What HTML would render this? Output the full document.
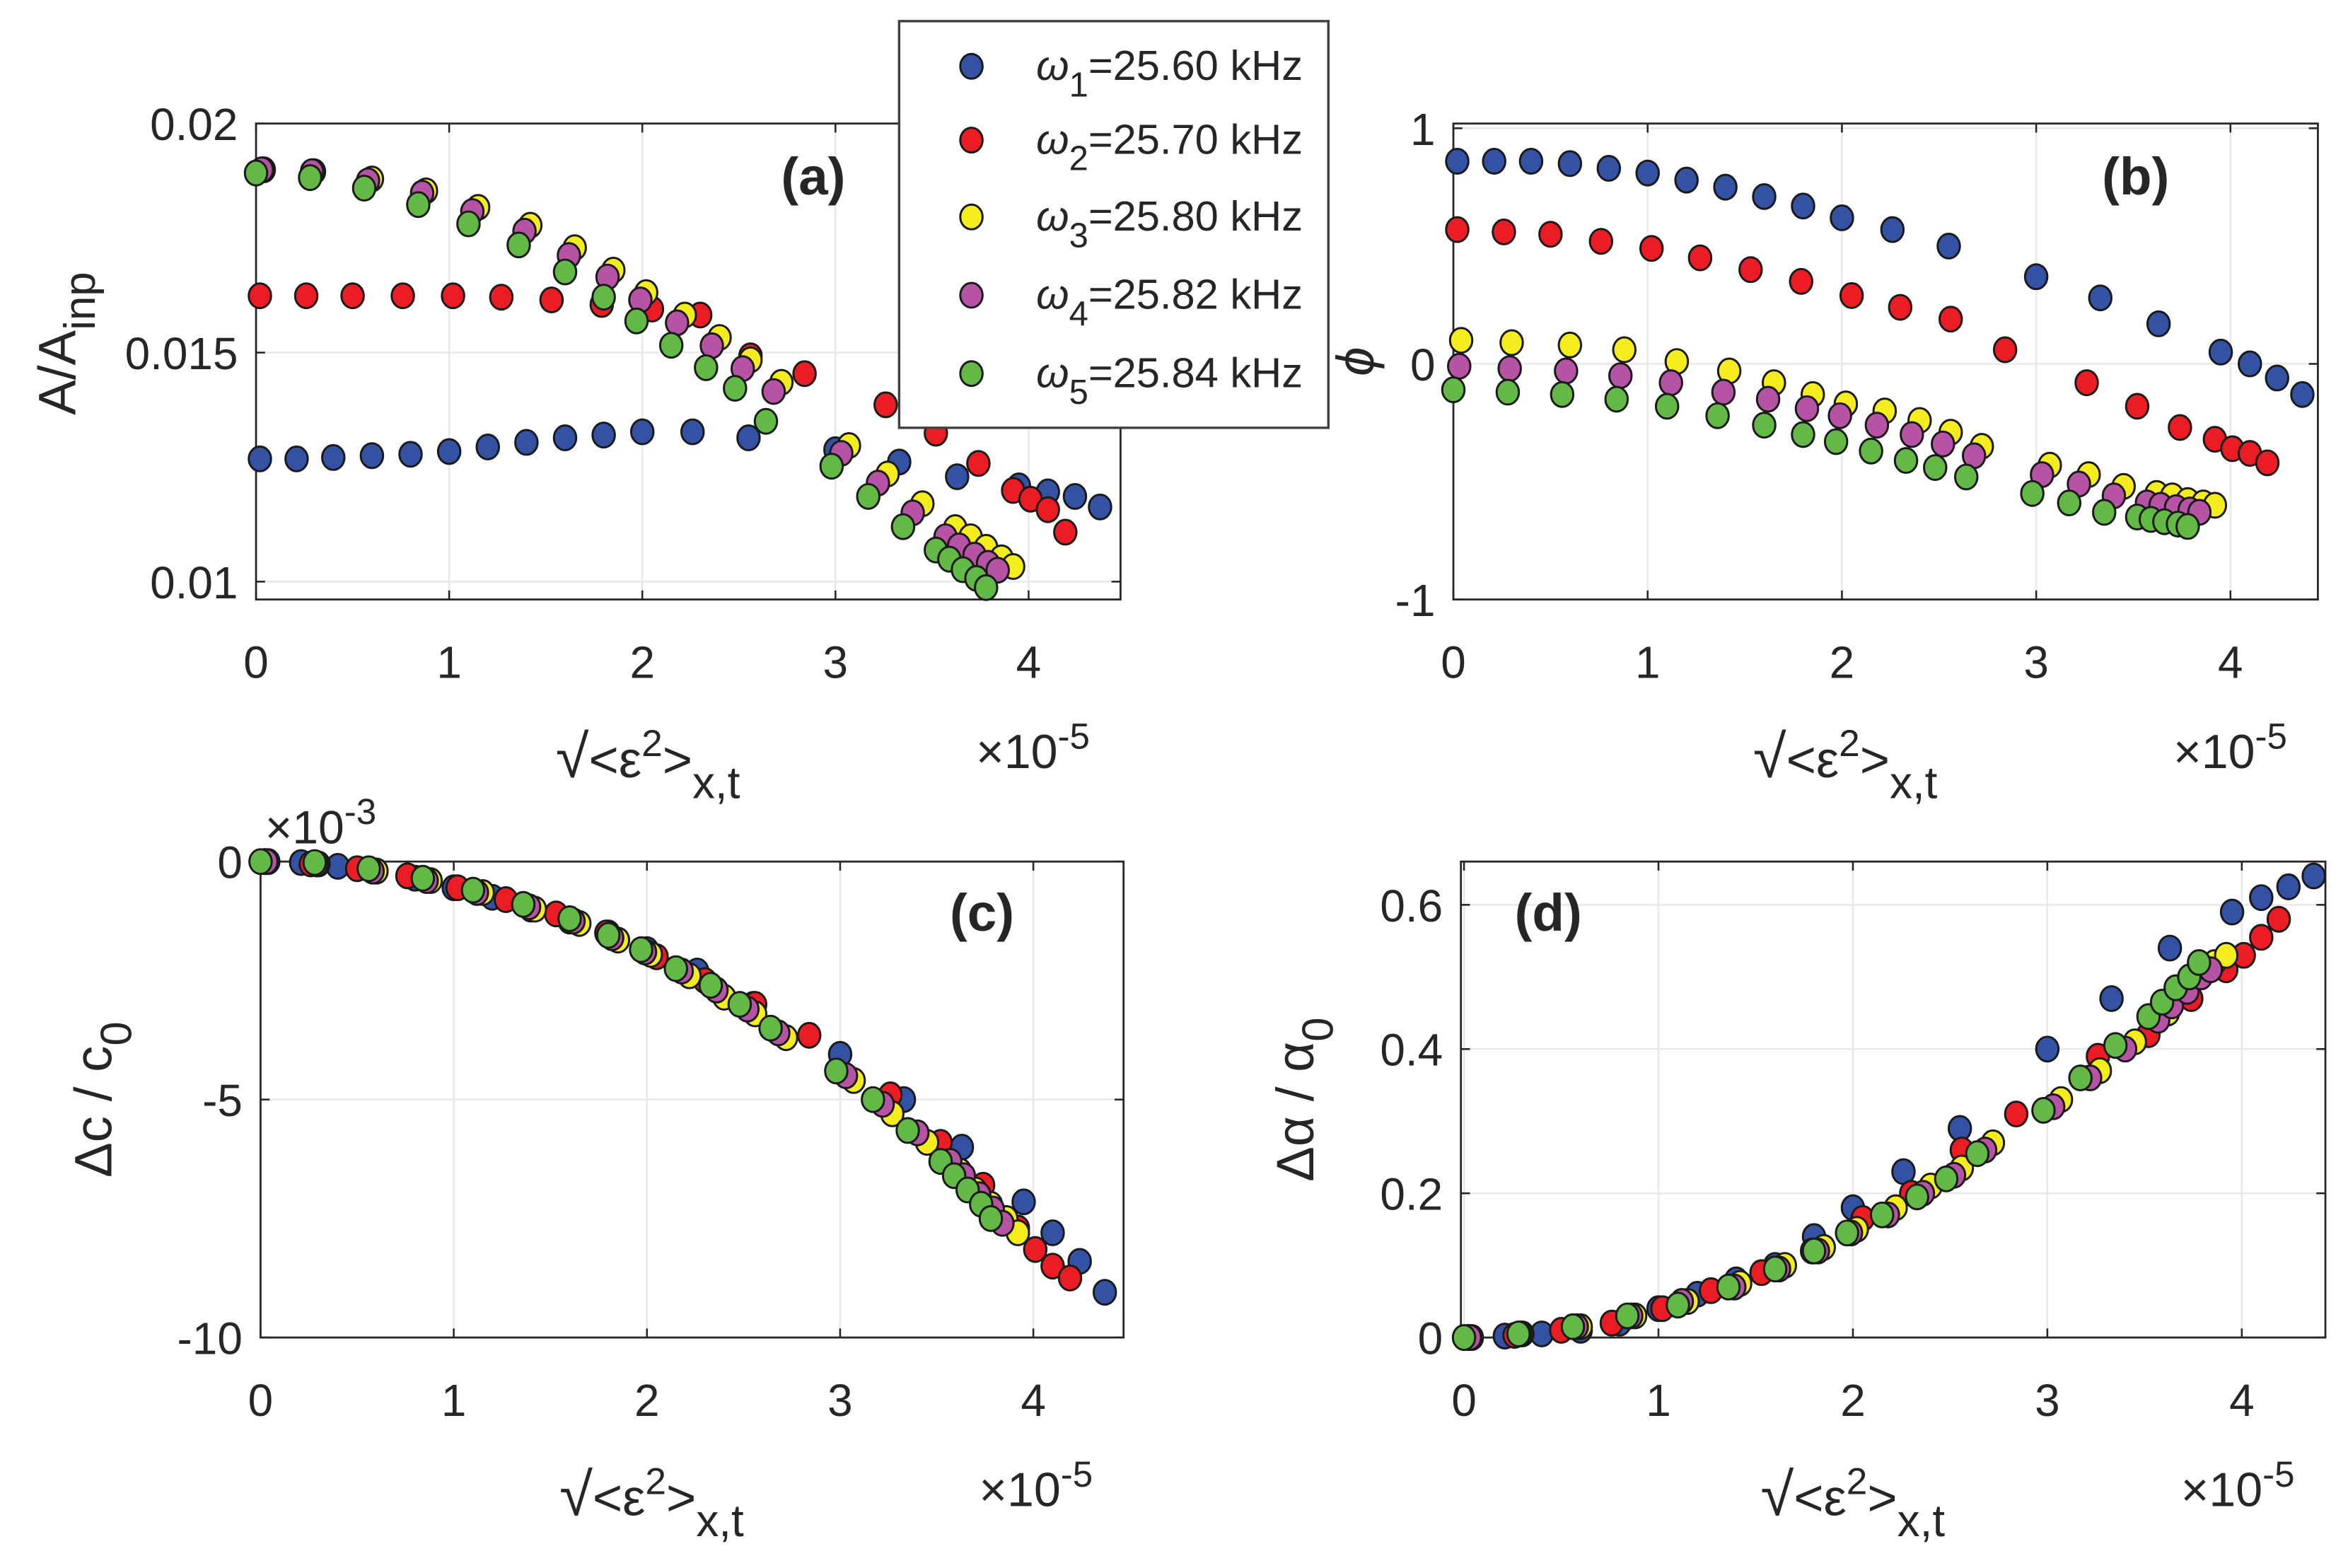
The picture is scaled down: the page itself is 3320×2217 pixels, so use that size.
<!DOCTYPE html>
<html><head><meta charset="utf-8">
<style>
html,body{margin:0;padding:0;background:#fff;}
svg{display:block;}
text{font-family:"Liberation Sans",Arial,sans-serif;fill:#262626;}
</style></head>
<body>
<svg id="fig" width="3320" height="2217" viewBox="0 0 1559 1041" xmlns="http://www.w3.org/2000/svg"></svg>
<script>
// ===== Data (x in units of 1e-5) =====
const x1 = [0.02,0.21,0.4,0.6,0.8,1.0,1.2,1.4,1.6,1.8,2.0,2.26,2.55,3.0,3.33,3.63,3.95,4.1,4.24,4.37];
const x2 = [0.02,0.26,0.5,0.76,1.02,1.27,1.53,1.79,2.05,2.3,2.56,2.84,3.26,3.52,3.74,3.92,4.01,4.1,4.19];
const x3 = [0.04,0.3,0.6,0.88,1.15,1.42,1.65,1.85,2.02,2.22,2.4,2.56,2.72,3.07,3.27,3.45,3.62,3.7,3.78,3.86,3.92];
const x4 = [0.03,0.29,0.58,0.86,1.12,1.39,1.62,1.82,1.99,2.18,2.36,2.52,2.68,3.03,3.22,3.4,3.57,3.64,3.72,3.79,3.84];
const x5 = [0.0,0.28,0.56,0.84,1.1,1.36,1.6,1.8,1.97,2.15,2.33,2.48,2.64,2.98,3.17,3.35,3.52,3.59,3.66,3.73,3.78];

const a1 = [0.01268,0.01268,0.01271,0.01275,0.01278,0.01284,0.01294,0.01304,0.01314,0.0132,0.01327,0.01327,0.01314,0.01288,0.01261,0.01229,0.01209,0.01196,0.01186,0.01163];
const a2 = [0.01624,0.01624,0.01624,0.01624,0.01624,0.01621,0.01615,0.01605,0.01595,0.01582,0.01493,0.01454,0.01386,0.01324,0.01258,0.01199,0.0118,0.01157,0.01108];
const a3 = [0.01899,0.01895,0.01879,0.01853,0.01817,0.01778,0.01729,0.0168,0.01631,0.01582,0.01533,0.01484,0.01435,0.01297,0.01235,0.0117,0.01118,0.01098,0.01075,0.01052,0.01033];
const a4 = [0.01899,0.01895,0.01875,0.01848,0.01808,0.01765,0.01712,0.01665,0.01615,0.01565,0.01515,0.01465,0.01415,0.0128,0.01215,0.0115,0.01098,0.01078,0.01058,0.0104,0.01025];
const a5 = [0.01892,0.01882,0.01859,0.01823,0.01781,0.01735,0.01676,0.01621,0.01569,0.01516,0.01467,0.01422,0.0135,0.01252,0.01186,0.0112,0.01069,0.01049,0.01026,0.01007,0.00987];

const b1 = [0.86,0.86,0.86,0.85,0.83,0.81,0.78,0.75,0.71,0.67,0.62,0.57,0.50,0.37,0.28,0.17,0.05,0.0,-0.06,-0.13];
const b2 = [0.57,0.56,0.55,0.52,0.49,0.45,0.40,0.35,0.29,0.24,0.19,0.06,-0.08,-0.18,-0.27,-0.32,-0.36,-0.38,-0.42];
const b3 = [0.10,0.09,0.08,0.06,0.01,-0.03,-0.08,-0.13,-0.17,-0.2,-0.24,-0.29,-0.35,-0.43,-0.47,-0.52,-0.55,-0.56,-0.58,-0.59,-0.60];
const b4 = [-0.01,-0.02,-0.03,-0.05,-0.08,-0.12,-0.15,-0.19,-0.22,-0.26,-0.3,-0.34,-0.39,-0.47,-0.51,-0.56,-0.59,-0.6,-0.61,-0.62,-0.63];
const b5 = [-0.11,-0.12,-0.13,-0.15,-0.18,-0.22,-0.26,-0.3,-0.33,-0.37,-0.41,-0.44,-0.48,-0.55,-0.59,-0.63,-0.65,-0.66,-0.67,-0.68,-0.69];

const c1 = [0,-0.02,-0.1,-0.2,-0.35,-0.55,-0.75,-1.0,-1.25,-1.5,-1.85,-2.3,-3.0,-4.05,-5.0,-6.0,-7.15,-7.8,-8.4,-9.05];
const c2 = [0,-0.05,-0.15,-0.3,-0.55,-0.8,-1.1,-1.5,-2.0,-2.5,-3.0,-3.65,-4.9,-5.9,-6.8,-7.7,-8.15,-8.5,-8.75];
const c3 = [0,-0.05,-0.2,-0.4,-0.65,-1.0,-1.3,-1.65,-1.95,-2.4,-2.85,-3.2,-3.7,-4.6,-5.3,-5.9,-6.5,-6.9,-7.2,-7.5,-7.8];
const c4 = [0,-0.05,-0.2,-0.4,-0.65,-0.95,-1.25,-1.6,-1.9,-2.3,-2.7,-3.1,-3.6,-4.5,-5.1,-5.7,-6.3,-6.6,-7.0,-7.3,-7.6];
const c5 = [0,-0.02,-0.15,-0.35,-0.6,-0.9,-1.2,-1.55,-1.85,-2.25,-2.6,-3.0,-3.5,-4.4,-5.0,-5.65,-6.3,-6.6,-6.9,-7.2,-7.5];

const d1 = [0,0.002,0.005,0.01,0.02,0.04,0.06,0.08,0.1,0.14,0.18,0.23,0.29,0.4,0.47,0.54,0.59,0.61,0.625,0.64];
const d2 = [0,0.003,0.01,0.02,0.04,0.065,0.09,0.12,0.165,0.2,0.26,0.31,0.39,0.42,0.47,0.51,0.53,0.555,0.58];
const d3 = [0,0.005,0.015,0.03,0.05,0.075,0.1,0.125,0.15,0.18,0.21,0.235,0.27,0.33,0.37,0.41,0.45,0.48,0.5,0.52,0.53];
const d4 = [0,0.005,0.015,0.03,0.05,0.07,0.095,0.12,0.145,0.17,0.2,0.225,0.26,0.32,0.36,0.4,0.44,0.46,0.48,0.5,0.51];
const d5 = [0,0.005,0.015,0.03,0.045,0.07,0.095,0.12,0.145,0.17,0.195,0.22,0.255,0.315,0.36,0.405,0.445,0.465,0.485,0.5,0.52];

const xTicks = [0,1,2,3,4];
const aTicks = [0.01,0.015,0.02];
const aTickLabels = ["0.01","0.015","0.02"];
const bTicks = [-1,0,1];
const bTickLabels = ["-1","0","1"];
const cTicks = [-10,-5,0];
const cTickLabels = ["-10","-5","0"];
const dTicks = [0,0.2,0.4,0.6];
const dTickLabels = ["0","0.2","0.4","0.6"];
const seriesNames = ["ω1","ω2","ω3","ω4","ω5"];
const seriesLabels = ["=25.60 kHz","=25.70 kHz","=25.80 kHz","=25.82 kHz","=25.84 kHz"];
const colors = ["#3452a4","#ec1c24","#f4ec1c","#b653a5","#63b946"];

const NS = "http://www.w3.org/2000/svg";
const svg = document.getElementById("fig");
function el(tag, attrs, parent, txt){
  const e = document.createElementNS(NS, tag);
  for (const k in attrs) e.setAttribute(k, attrs[k]);
  if (txt !== undefined) e.textContent = txt;
  (parent||svg).appendChild(e);
  return e;
}

function panel(name, box, xr, yr, yticks, ylabels, xs, ys){
  const g = el("g", {});
  
  
  const sx = v => box.x0 + (v - xr[0]) / (xr[1] - xr[0]) * (box.x1 - box.x0);
  const sy = v => box.y1 - (v - yr[0]) / (yr[1] - yr[0]) * (box.y1 - box.y0);
  xTicks.forEach(t => {
    const l = el("line", {x1:sx(t), x2:sx(t), y1:box.y0, y2:box.y1, stroke:"#e8e8e8", "stroke-width":1.2}, g);
    
    
  });
  yticks.forEach(t => {
    const l = el("line", {x1:box.x0, x2:box.x1, y1:sy(t), y2:sy(t), stroke:"#e8e8e8", "stroke-width":1.2}, g);
    
    
  });
  xTicks.forEach(t => {
    el("line", {x1:sx(t), x2:sx(t), y1:box.y1, y2:box.y1-6, stroke:"#262626", "stroke-width":1.2}, g);
    el("line", {x1:sx(t), x2:sx(t), y1:box.y0, y2:box.y0+6, stroke:"#262626", "stroke-width":1.2}, g);
    const tl = el("text", {x:sx(t), y:box.y1+52, "font-size":30, "text-anchor":"middle"}, g, String(t));
    
    
  });
  yticks.forEach((t,i) => {
    el("line", {x1:box.x0, x2:box.x0+6, y1:sy(t), y2:sy(t), stroke:"#262626", "stroke-width":1.2}, g);
    el("line", {x1:box.x1, x2:box.x1-6, y1:sy(t), y2:sy(t), stroke:"#262626", "stroke-width":1.2}, g);
    const tl = el("text", {x:box.x0-12, y:sy(t)+11, "font-size":30, "text-anchor":"end"}, g, ylabels[i]);
    
    
  });
  const r = el("rect", {x:box.x0, y:box.y0, width:box.x1-box.x0, height:box.y1-box.y0, fill:"none", stroke:"#262626", "stroke-width":1.3}, g);
  
  
  for (let s = 0; s < xs.length; s++){
    const sg = el("g", {}, g);
    
    
    for (let i = 0; i < xs[s].length && i < ys[s].length; i++){
      const c = el("ellipse", {cx:sx(xs[s][i]), cy:sy(ys[s][i]), rx:7.4, ry:8.2, fill:colors[s], stroke:"#1a1a1a", "stroke-width":1.4}, sg);
      
      
    }
  }
  const cx = (box.x0 + box.x1) / 2 - 10;
  const xl = el("text", {x:cx - 78, y:box.y1+118, "font-size":34}, g);
  
  
  el("tspan", {"font-size":40}, xl, "√");
  el("tspan", {}, xl, "<ε");
  el("tspan", {dy:-14, "font-size":25}, xl, "2");
  el("tspan", {dy:14}, xl, ">");
  el("tspan", {dy:14, "font-size":30}, xl, "x,t");
  const ex = el("text", {x:box.x1-96, y:box.y1+112, "font-size":32}, g);
  
  
  el("tspan", {}, ex, "×10");
  el("tspan", {dy:-13, "font-size":24}, ex, "-5");
  return {g, sx, sy};
}

const xs = [x1,x2,x3,x4,x5];
panel("a", {x0:170,x1:744,y0:82,y1:398}, [0,4.476], [0.00961,0.02], aTicks, aTickLabels, xs, [a1,a2,a3,a4,a5]);
panel("b", {x0:965,x1:1539,y0:82,y1:398}, [0,4.45], [-1,1.02], bTicks, bTickLabels, xs, [b1,b2,b3,b4,b5]);
panel("c", {x0:173,x1:746,y0:572,y1:888}, [0,4.467], [-10,0], cTicks, cTickLabels, xs, [c1,c2,c3,c4,c5]);
panel("d", {x0:970,x1:1544,y0:572,y1:888}, [-0.016,4.43], [0,0.66], dTicks, dTickLabels, xs, [d1,d2,d3,d4,d5]);

function ylabel(name, x, y, parts){
  const t = el("text", {x:x, y:y, "font-size":35, "text-anchor":"middle", transform:`rotate(-90 ${x} ${y})`});
  
  
  parts.forEach(p => el("tspan", p[1], t, p[0]));
  return t;
}
ylabel("y-axis-title-a", 50, 228, [["A/A",{}],["inp",{dy:13,"font-size":29}]]);
ylabel("y-axis-title-b", 912, 240, [["ϕ",{"font-style":"italic"}]]);
ylabel("y-axis-title-c", 74, 730, [["Δc / c",{}],["0",{dy:13,"font-size":29}]]);
ylabel("y-axis-title-d", 872, 730, [["Δα / α",{}],["0",{dy:13,"font-size":29}]]);

const ce = el("text", {x:176, y:560, "font-size":31});


el("tspan", {}, ce, "×10");
el("tspan", {dy:-13, "font-size":24}, ce, "-3");

[["(a)",540,129],["(b)",1418,129],["(c)",652,618],["(d)",1028,618]].forEach(p => {
  const t = el("text", {x:p[1], y:p[2], "font-size":35, "font-weight":"bold", "text-anchor":"middle"}, svg, p[0]);
  
  
});

const lg = el("g", {});


el("rect", {x:597, y:14, width:285, height:270, fill:"#fff", stroke:"#404040", "stroke-width":1.6}, lg);
const legY = [44, 93, 144, 196, 248];
seriesNames.forEach((n, i) => {
  const e = el("g", {}, lg);
  
  
  el("ellipse", {cx:645, cy:legY[i], rx:7.4, ry:8.2, fill:colors[i], stroke:"#1a1a1a", "stroke-width":1.4}, e);
  const t = el("text", {x:688, y:legY[i]+9, "font-size":28}, e);
  el("tspan", {"font-style":"italic"}, t, "ω");
  el("tspan", {dy:11, "font-size":23}, t, String(i+1));
  el("tspan", {dy:-11}, t, seriesLabels[i]);
});
</script>
</body></html>
